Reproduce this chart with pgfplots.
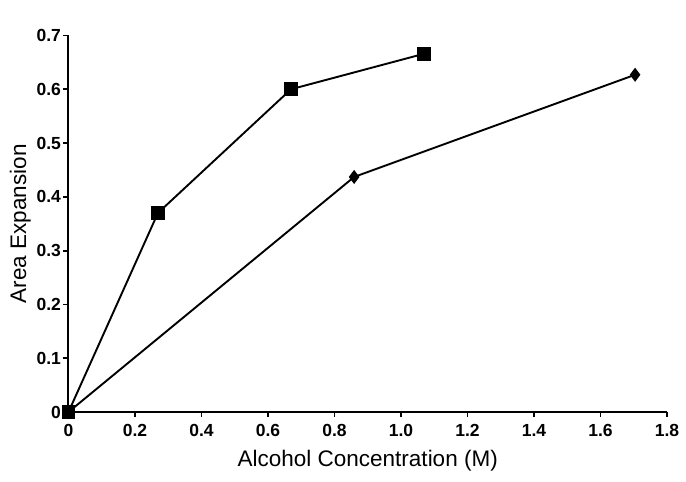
\documentclass[border=0pt]{standalone}
\usepackage{pgfplots}
\pgfplotsset{compat=1.18}
\usepackage{fontspec}
\setmainfont{Liberation Sans}
\begin{document}
\begin{tikzpicture}
\begin{axis}[
  scale only axis,
  width=598.5pt, height=376.5pt,
  xmin=0, xmax=1.8, ymin=0, ymax=0.7,
  axis lines=left,
  axis line style={line width=2pt, -},
  clip=false,
  xtick={0,0.2,0.4,0.6,0.8,1.0,1.2,1.4,1.6,1.8},
  xticklabels={0,0.2,0.4,0.6,0.8,1.0,1.2,1.4,1.6,1.8},
  ytick={0,0.1,0.2,0.3,0.4,0.5,0.6,0.7},
  yticklabels={0,0.1,0.2,0.3,0.4,0.5,0.6,0.7},
  tick align=outside,
  major tick length=5pt,
  tick style={line width=1.8pt, black},
  ticklabel style={font=\fontsize{17.5}{17.5}\selectfont\bfseries},
  xticklabel style={yshift=-3pt, text height=12.5pt, text depth=3pt},
  yticklabel style={xshift=1pt},
  xlabel={Alcohol Concentration (M)},
  ylabel={Area Expansion},
  label style={font=\fontsize{22.5}{22.5}\selectfont},
  xlabel style={yshift=-4pt},
  ylabel style={yshift=-1pt},
]
\addplot[black, line width=1.9pt, mark=square*, mark size=6pt, mark options={solid}]
  coordinates {(0,0) (0.269,0.370) (0.669,0.600) (1.069,0.666)};
\addplot[black, line width=1.9pt, mark=diamond*, mark size=5.5pt]
  coordinates {(0,0) (0.859,0.437) (1.704,0.627)};
\end{axis}
\path[use as bounding box] ([shift={(-68.5pt,-70pt)}]current axis.south west) rectangle ([shift={(19pt,35.5pt)}]current axis.north east);
\end{tikzpicture}
\end{document}
